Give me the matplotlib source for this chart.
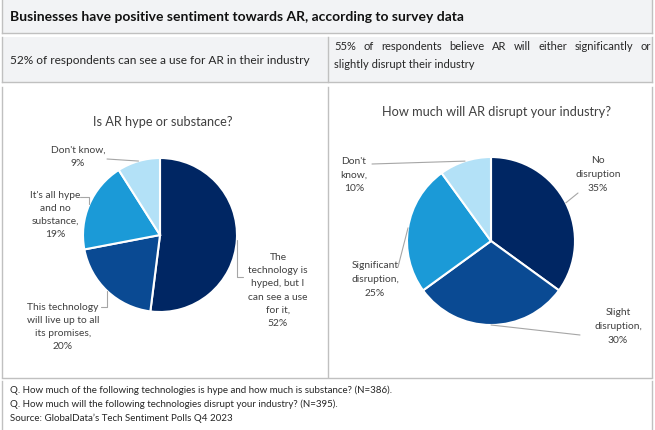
import numpy as np
import matplotlib
matplotlib.use('Agg')
from matplotlib import pyplot as plt
from matplotlib.patches import Rectangle

plt.rcParams['font.family'] = ['Lato', 'DejaVu Sans']

# data
title = 'Businesses have positive sentiment towards AR, according to survey data'
left_note = '52% of respondents can see a use for AR in their industry'
right_note_1 = '55% of respondents believe AR will either significantly or'
right_note_2 = 'slightly disrupt their industry'

hype_title = 'Is AR hype or substance?'
hype_names = ['The\ntechnology is\nhyped, but I\ncan see a use\nfor it,',
              'This technology\nwill live up to all\nits promises,',
              "It's all hype\nand no\nsubstance,",
              "Don't know,"]
hype_values = [52, 20, 19, 9]

disrupt_title = 'How much will AR disrupt your industry?'
disrupt_names = ['No\ndisruption', 'Slight\ndisruption,', 'Significant\ndisruption,', "Don't\nknow,"]
disrupt_values = [35, 30, 25, 10]

footer = ['Q. How much of the following technologies is hype and how much is substance? (N=386).',
          'Q. How much will the following technologies disrupt your industry? (N=395).',
          "Source: GlobalData\u2019s Tech Sentiment Polls Q4 2023"]

colors = ['#002663', '#0a4a93', '#1b9ad7', '#b3e1f7']
border = '#c0c0c0'
label_col = '#404040'
txt_col = '#262626'

W, H = 655, 430
fig = plt.figure(figsize=(W / 100, H / 100), dpi=100)
bg = fig.add_axes([0, 0, 1, 1])
bg.set_xlim(0, W)
bg.set_ylim(H, 0)
bg.axis('off')

# table cells
bg.add_patch(Rectangle((2, 0), 650, 33, facecolor='#f2f3f5', edgecolor='none'))
bg.add_patch(Rectangle((2, 37), 650, 45, facecolor='#f2f3f5', edgecolor='none'))
for x in [2, 652]:
    bg.plot([x, x], [0, 33], color=border, lw=1)
    bg.plot([x, x], [37, 82], color=border, lw=1)
    bg.plot([x, x], [87, 377], color=border, lw=1)
    bg.plot([x, x], [381, 430], color=border, lw=1)
bg.plot([327.5, 327.5], [37, 82], color=border, lw=1)
bg.plot([327.5, 327.5], [87, 377], color=border, lw=1)
for y in [33, 82, 378]:
    bg.plot([2, 652], [y, y], color=border, lw=1)

bg.text(10, 17, title, fontsize=10.0, fontweight='bold', color='#111111', va='center')
bg.text(10, 60, left_note, fontsize=8.6, color=txt_col, va='center')
bg.text(334, 65, right_note_2, fontsize=8.0, color=txt_col, va='center')

# justified first line of the right note
words = right_note_1.split(' ')
wtexts = [bg.text(0, 47, w, fontsize=8.0, color=txt_col, va='center') for w in words]
fig.canvas.draw()
r = fig.canvas.get_renderer()
widths = [t.get_window_extent(r).width for t in wtexts]
gap = (651 - 334 - sum(widths)) / (len(words) - 1)
x = 334
for t, w in zip(wtexts, widths):
    t.set_x(x)
    x += w + gap

for i, line in enumerate(footer):
    bg.text(10, 390 + i * 14, line, fontsize=7.0, color=txt_col, va='center')


def pie_axes(cx, cy, rad):
    ax = fig.add_axes([(cx - rad) / W, (H - cy - rad) / H, 2 * rad / W, 2 * rad / H])
    return ax


def draw_pie(ax, values, names, spots, title_xy, title_text, lsp):
    wedges, _ = ax.pie(values, colors=colors, startangle=90, counterclock=False, radius=1,
                       wedgeprops=dict(edgecolor='white', linewidth=1.5))
    ax.set_xlim(-1, 1)
    ax.set_ylim(-1, 1)
    ax.axis('off')
    bg.text(title_xy[0], title_xy[1], title_text, fontsize=9.2, color=label_col,
            ha='center', va='center')
    for wg, name, val, sp in zip(wedges, names, values, spots):
        (tx, ty), start, conn = sp
        bg.text(tx, ty, f'{name}\n{val}%', fontsize=7.4, color=label_col,
                ha='center', va='center', linespacing=lsp)
        ang = np.deg2rad((wg.theta1 + wg.theta2) / 2)
        ax.annotate('', xy=(np.cos(ang), np.sin(ang)), xycoords='data',
                    xytext=start, textcoords=bg.transData, annotation_clip=False,
                    arrowprops=dict(arrowstyle='-', color='#a6a6a6', lw=0.8,
                                    shrinkA=0, shrinkB=0, connectionstyle=conn))


elbow = 'angle,angleA=0,angleB=90,rad=0'
straight = 'arc3,rad=0'

ax1 = pie_axes(160, 235, 77)
draw_pie(ax1, hype_values, hype_names,
         [((278, 290.5), (243, 277), elbow),
          ((63, 327), (101, 307), elbow),
          ((55, 215), (80, 197), elbow),
          ((78, 157), (107, 159), straight)],
         (163, 122), hype_title, 1.58)

ax2 = pie_axes(491, 241, 84)
draw_pie(ax2, disrupt_values, disrupt_names,
         [((598, 174.5), (578, 193), straight),
          ((618, 326.5), (580, 335), straight),
          ((375, 279.5), (398, 267), straight),
          ((354, 175), (372, 164), straight)],
         (496, 112), disrupt_title, 1.65)

fig.savefig('out.png', dpi=100)
